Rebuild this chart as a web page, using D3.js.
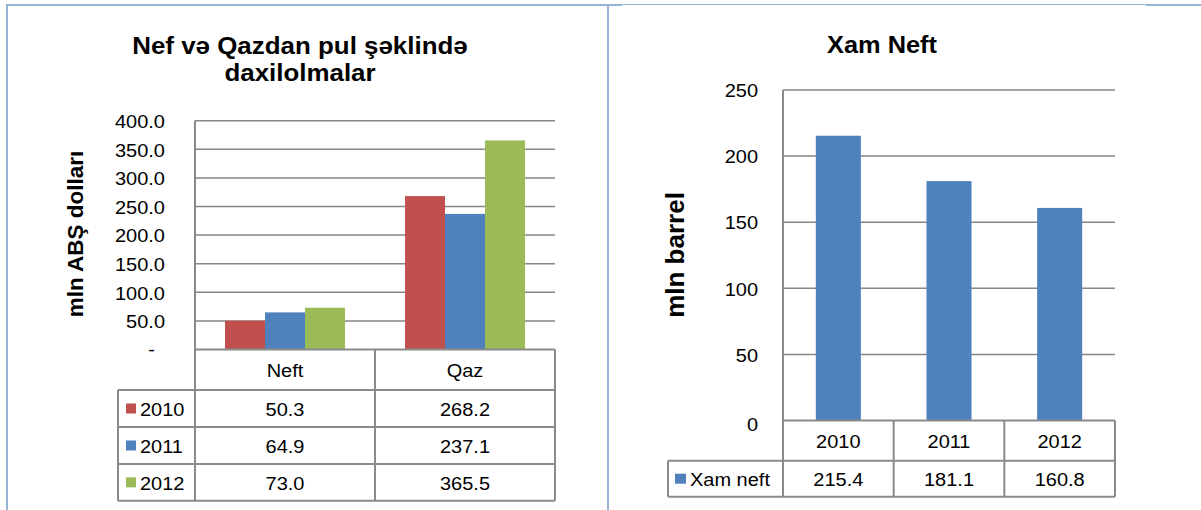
<!DOCTYPE html>
<html>
<head>
<meta charset="utf-8">
<script src="https://cdn.jsdelivr.net/npm/d3@7"></script>
<style>
  body { margin: 0; background: #fff; }
  svg { display: block; font-family: "Liberation Sans", Arial, sans-serif; }
</style>
</head>
<body>
<div id="root"></div>
<script>
// ---- data ----
const gasCategories = ["Neft", "Qaz"];
const gasYears = ["2010", "2011", "2012"];
const gasValues = [
  [50.3, 268.2], // 2010
  [64.9, 237.1], // 2011
  [73.0, 365.5], // 2012
];
const gasTicks = [0, 50, 100, 150, 200, 250, 300, 350, 400];

const oilYears = ["2010", "2011", "2012"];
const oilValues = [215.4, 181.1, 160.8];
const oilTicks = [0, 50, 100, 150, 200, 250];

const yearColors = ["#c0504d", "#4f81bd", "#9bbb59"];
const gridColor = "#868686";
const tableColor = "#8a8a8a";
const frameColor = "#95b3d7";
const SX = 1.08; // source picture is slightly stretched horizontally

const svg = d3.select("#root").append("svg")
  .attr("width", 1201).attr("height", 510);

// text helper, horizontally stretched like the source
function text(g, x, y, str, size, anchor, bold) {
  return g.append("text")
    .attr("transform", `translate(${x},${y}) scale(${SX},1)`)
    .attr("text-anchor", anchor || "middle")
    .attr("dominant-baseline", "central")
    .attr("font-size", size)
    .attr("font-weight", bold ? "bold" : "normal")
    .attr("fill", "#000")
    .text(str);
}

function line(g, x1, y1, x2, y2, color, w) {
  g.append("line")
    .attr("x1", x1).attr("y1", y1).attr("x2", x2).attr("y2", y2)
    .attr("stroke", color).attr("stroke-width", w);
}

// ---- page frame ----
const frame = svg.append("g");
line(frame, 7, 5, 622, 5, frameColor, 2);
line(frame, 622, 4.5, 1146, 4.5, frameColor, 1);
line(frame, 1146, 5, 1201, 5, frameColor, 2);
line(frame, 7, 4, 7, 510, frameColor, 2);
line(frame, 608, 4, 608, 510, frameColor, 2);

// ---- left chart: Neft və Qaz ----
{
  const g = svg.append("g");
  const x0 = 195, x1 = 555, yTop = 120.7, yBase = 349.5;
  const legendX = 118;
  const rowEdges = [349.5, 390, 427, 464, 500.7];

  const y = d3.scaleLinear().domain([0, 400]).range([yBase, yTop]);
  const xCat = d3.scaleBand().domain(gasCategories).range([x0, x1]);
  const xYear = d3.scaleBand().domain(gasYears)
    .range([0, xCat.bandwidth()]).paddingInner(0).paddingOuter(0.75);

  text(g, 300, 45, "Nef və Qazdan pul şəklində", 24, "middle", true);
  text(g, 300, 72, "daxilolmalar", 24, "middle", true);

  g.append("text")
    .attr("transform", `translate(75,234) rotate(-90)`)
    .attr("text-anchor", "middle")
    .attr("dominant-baseline", "central")
    .attr("font-size", 22.5).attr("font-weight", "bold")
    .text("mln ABŞ dolları");

  // gridlines + tick labels
  g.selectAll(".grid").data(gasTicks.filter(d => d > 0)).enter()
    .append("line").attr("class", "grid")
    .attr("x1", x0).attr("x2", x1)
    .attr("y1", d => y(d)).attr("y2", d => y(d))
    .attr("stroke", gridColor).attr("stroke-width", 1.5);
  gasTicks.forEach(d => {
    if (d === 0) text(g, 155, y(d), "-", 18.5, "end");
    else text(g, 165, y(d) + 1, d.toFixed(1), 18.5, "end");
  });

  // bars
  gasYears.forEach((yr, i) => {
    g.selectAll(`.bar-${yr}`).data(gasValues[i]).enter()
      .append("rect")
      .attr("x", (d, j) => xCat(gasCategories[j]) + xYear(yr))
      .attr("width", xYear.bandwidth())
      .attr("y", d => y(d))
      .attr("height", d => yBase - y(d))
      .attr("fill", yearColors[i]);
  });

  // axis + data table
  line(g, x0, yTop, x0, rowEdges[4], tableColor, 2);
  line(g, x0, yBase, x1, yBase, tableColor, 2);
  gasCategories.forEach(c => {
    line(g, xCat(c) + xCat.bandwidth(), yBase, xCat(c) + xCat.bandwidth(), rowEdges[4], tableColor, 2);
    text(g, xCat(c) + xCat.bandwidth() / 2, (rowEdges[0] + rowEdges[1]) / 2 + 1, c, 18.5);
  });
  line(g, legendX, rowEdges[1], x1, rowEdges[1], tableColor, 2);
  line(g, legendX, rowEdges[1], legendX, rowEdges[4], tableColor, 2);
  gasYears.forEach((yr, i) => {
    const top = rowEdges[i + 1], bot = rowEdges[i + 2], mid = (top + bot) / 2;
    line(g, legendX, bot, x1, bot, tableColor, 2);
    g.append("rect").attr("x", 126).attr("y", mid - 5).attr("width", 10).attr("height", 10)
      .attr("fill", yearColors[i]);
    text(g, 140, mid + 1, yr, 18.5, "start");
    gasCategories.forEach((c, j) => {
      text(g, xCat(c) + xCat.bandwidth() / 2, mid + 1, gasValues[i][j].toFixed(1), 18.5);
    });
  });
}

// ---- right chart: Xam Neft ----
{
  const g = svg.append("g");
  const x0 = 783, x1 = 1115, yTop = 90, yBase = 420.5;
  const legendX = 668;
  const rowEdges = [420.5, 460.7, 496.7];
  const pad = 0.593;

  const y = d3.scaleLinear().domain([0, 250]).range([yBase, yTop]);
  const xCol = d3.scaleBand().domain(oilYears).range([x0, x1]);
  const xBar = d3.scaleBand().domain(oilYears).range([x0, x1])
    .paddingInner(pad).paddingOuter(pad / 2);

  text(g, 882, 45, "Xam Neft", 23.5, "middle", true);

  g.append("text")
    .attr("transform", `translate(675,255) rotate(-90)`)
    .attr("text-anchor", "middle")
    .attr("dominant-baseline", "central")
    .attr("font-size", 26).attr("font-weight", "bold")
    .text("mln barrel");

  g.selectAll(".grid").data(oilTicks.filter(d => d > 0)).enter()
    .append("line").attr("class", "grid")
    .attr("x1", x0).attr("x2", x1)
    .attr("y1", d => y(d)).attr("y2", d => y(d))
    .attr("stroke", gridColor).attr("stroke-width", 1.5);
  oilTicks.forEach(d => {
    text(g, 758, y(d) + (d === 0 ? 4 : 1), String(d), 18.5, "end");
  });

  g.selectAll(".bar").data(oilValues).enter()
    .append("rect").attr("class", "bar")
    .attr("x", (d, i) => xBar(oilYears[i]))
    .attr("width", xBar.bandwidth())
    .attr("y", d => y(d))
    .attr("height", d => yBase - y(d))
    .attr("fill", yearColors[1]);

  line(g, x0, yTop, x0, rowEdges[2], tableColor, 2);
  line(g, x0, yBase, x1, yBase, tableColor, 2);
  oilYears.forEach((yr, i) => {
    const right = xCol(yr) + xCol.bandwidth();
    line(g, right, yBase, right, rowEdges[2], tableColor, 2);
    text(g, xCol(yr) + xCol.bandwidth() / 2, (rowEdges[0] + rowEdges[1]) / 2 + 1, yr, 18.5);
    text(g, xCol(yr) + xCol.bandwidth() / 2, (rowEdges[1] + rowEdges[2]) / 2 + 1, oilValues[i].toFixed(1), 18.5);
  });
  line(g, legendX, rowEdges[1], x1, rowEdges[1], tableColor, 2);
  line(g, legendX, rowEdges[2], x1, rowEdges[2], tableColor, 2);
  line(g, legendX, rowEdges[1], legendX, rowEdges[2], tableColor, 2);
  const mid = (rowEdges[1] + rowEdges[2]) / 2;
  g.append("rect").attr("x", 675).attr("y", mid - 5).attr("width", 11).attr("height", 10)
    .attr("fill", yearColors[1]);
  text(g, 690, mid + 1, "Xam neft", 18.5, "start");
}
</script>
</body>
</html>
